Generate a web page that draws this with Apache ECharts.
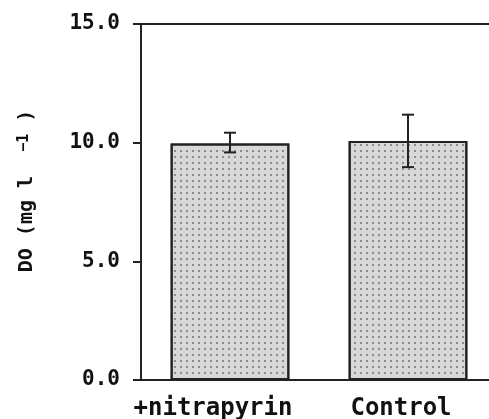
<!doctype html>
<html>
<head>
    <meta charset="utf-8">
    <title>DO</title>
    <script src="https://cdn.jsdelivr.net/npm/echarts@6/dist/echarts.min.js"></script>
    <style>
        html, body { margin: 0; padding: 0; background: #fff; }
        #Chart { width: 489px; height: 419px; }
    </style>
</head>
<body>
    <div id="Chart"></div>
<script>
    var categories = ['+nitrapyrin', 'Control'];
    var means = [9.97, 10.07];
    var errLow = [9.59, 8.97];
    var errHigh = [10.42, 11.18];
    var yTicks = [0, 5, 10, 15];

    var monoFont = '"DejaVu Sans Mono", monospace';
    var ink = '#222';

    var errData = [];
    for (var i = 0; i < categories.length; i++) {
        errData.push([i, errLow[i], errHigh[i]]);
    }

    function renderError(params, api) {
        var x = api.value(0);
        var lo = api.coord([x, api.value(1)]);
        var hi = api.coord([x, api.value(2)]);
        var cap = 6;
        var style = { stroke: ink, lineWidth: 2, fill: null };
        return {
            type: 'group',
            children: [
                { type: 'line', shape: { x1: hi[0], y1: hi[1], x2: lo[0], y2: lo[1] }, style: style },
                { type: 'line', shape: { x1: hi[0] - cap, y1: hi[1], x2: hi[0] + cap, y2: hi[1] }, style: style },
                { type: 'line', shape: { x1: lo[0] - cap, y1: lo[1], x2: lo[0] + cap, y2: lo[1] }, style: style }
            ]
        };
    }

    var labelStyle = { fontFamily: monoFont, fontWeight: 'bold', fontSize: 24, color: '#111' };

    var myChart = echarts.init(document.getElementById('Chart'));
    var option = {
        animation: false,
        grid: { left: 141, top: 24, width: 356, height: 356, outerBoundsMode: 'none' },
        xAxis: [{
            type: 'category',
            data: categories,
            axisLine: { lineStyle: { color: ink, width: 2 } },
            axisTick: { alignWithLabel: true, length: 8, lineStyle: { color: ink, width: 2 } },
            axisLabel: {
                interval: 0, hideOverlap: false, margin: 17,
                formatter: function (v, idx) { return '{c' + idx + '|' + v + '}'; },
                rich: {
                    c0: Object.assign({ padding: [0, 34, 0, 0] }, labelStyle),
                    c1: Object.assign({ padding: [0, 14, 0, 0] }, labelStyle)
                }
            }
        }, {
            type: 'category',
            position: 'top',
            data: categories,
            axisLine: { lineStyle: { color: ink, width: 2 } },
            axisTick: { show: false },
            axisLabel: { show: false }
        }],
        yAxis: {
            type: 'value',
            min: yTicks[0],
            max: yTicks[yTicks.length - 1],
            interval: 5,
            splitLine: { show: false },
            axisLine: { show: true, lineStyle: { color: ink, width: 2 } },
            axisTick: { show: true, length: 8, lineStyle: { color: ink, width: 2 } },
            axisLabel: {
                color: '#111', fontFamily: monoFont, fontWeight: 'bold', fontSize: 21, margin: 21,
                formatter: function (v) { return v.toFixed(1); }
            },
            name: '{a|DO (mg l  }{s|−1}{a| )}',
            nameLocation: 'middle',
            nameGap: 104,
            nameRotate: 90,
            nameTextStyle: {
                padding: [0, 0, 0, 22],
                rich: {
                    a: { fontFamily: monoFont, fontWeight: 'bold', fontSize: 20, color: '#111' },
                    s: { fontFamily: monoFont, fontWeight: 'bold', fontSize: 15, color: '#111', verticalAlign: 'top' }
                }
            }
        },
        series: [{
            type: 'bar',
            data: means,
            barWidth: '66.7%',
            itemStyle: {
                color: '#d8d8d8',
                borderColor: ink,
                borderWidth: 2,
                decal: {
                    symbol: 'rect',
                    symbolSize: 1,
                    dashArrayX: [2, 4],
                    dashArrayY: [2, 4],
                    color: 'rgba(90,90,90,0.6)'
                }
            }
        }, {
            type: 'custom',
            data: errData,
            renderItem: renderError,
            z: 5
        }]
    };
    myChart.setOption(option);
</script>
</body>
</html>
